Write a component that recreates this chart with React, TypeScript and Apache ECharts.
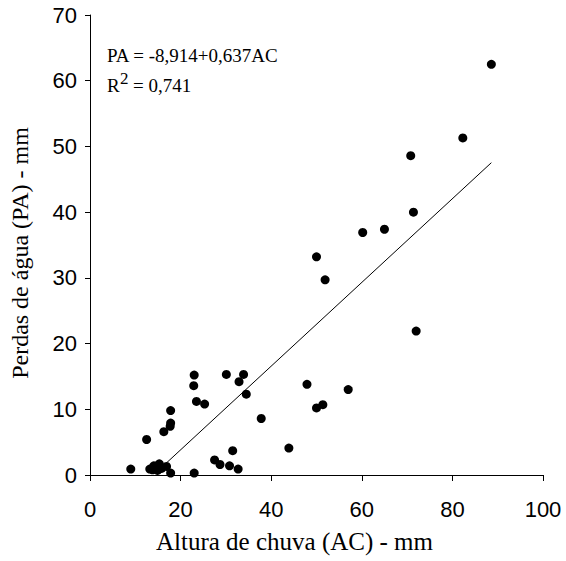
import React, { useEffect, useRef } from "react";
import * as echarts from "echarts";

const rainfallAC: number[] = [
  88.6, 82.3, 70.8, 71.4, 65.0, 60.2, 50.0, 51.9, 72.0,
  23.0, 22.9, 30.1, 33.9, 32.9, 34.5, 23.5, 25.3, 37.8, 47.9, 57.0, 50.0, 51.4,
  43.9, 31.5, 27.5, 28.7, 30.8, 32.7, 23.0,
  9.0, 12.5, 16.3, 17.8, 17.8, 17.7, 13.2, 14.1, 15.3, 14.9, 16.9, 17.8, 15.8, 13.8,
];
const lossesPA: number[] = [
  62.5, 51.3, 48.6, 40.0, 37.4, 36.9, 33.2, 29.7, 21.9,
  15.2, 13.6, 15.3, 15.3, 14.2, 12.3, 11.2, 10.8, 8.6, 13.8, 13.0, 10.2, 10.7,
  4.1, 3.7, 2.3, 1.6, 1.4, 0.9, 0.3,
  0.9, 5.4, 6.6, 9.8, 7.9, 7.4, 0.9, 1.4, 1.7, 0.7, 1.3, 0.3, 1.0, 0.8,
];
const intercept = -8.914;
const slope = 0.637;
const fitRangeAC: number[] = [15.6, 88.6];
const equationText = "PA = -8,914+0,637AC";
const r2Value = "0,741";

const serif = "'Liberation Serif', 'Times New Roman', serif";
const sans = "'Liberation Sans', Arial, sans-serif";

export default function App() {
  const ref = useRef<HTMLDivElement>(null);
  useEffect(() => {
    if (!ref.current) return;
    const chart = echarts.init(ref.current, null, { renderer: "svg" });
    const points = rainfallAC.map((x, i) => [x, lossesPA[i]]);
    const fit = fitRangeAC.map((x) => [x, intercept + slope * x]);
    chart.setOption({
      animation: false,
      backgroundColor: "#fff",
      grid: { left: 90, right: 23, top: 15, bottom: 86 },
      xAxis: {
        type: "value",
        min: 0,
        max: 100,
        interval: 20,
        splitLine: { show: false },
        axisLine: { lineStyle: { color: "#000", width: 1 } },
        axisTick: { inside: false, length: 6, lineStyle: { color: "#000" } },
        axisLabel: { color: "#000", fontFamily: sans, fontSize: 22, margin: 23 },
        name: "Altura de chuva (AC) - mm",
        nameLocation: "middle",
        nameGap: 54,
        nameTextStyle: {
          color: "#000",
          fontFamily: serif,
          fontSize: 25,
          padding: [0, 44, 0, 0],
        },
      },
      yAxis: {
        type: "value",
        min: 0,
        max: 70,
        interval: 10,
        splitLine: { show: false },
        axisLine: { show: true, lineStyle: { color: "#000", width: 1 } },
        axisTick: { show: true, inside: false, length: 5, lineStyle: { color: "#000" } },
        axisLabel: { color: "#000", fontFamily: sans, fontSize: 22, margin: 13 },
        name: "Perdas de água (PA) - mm",
        nameLocation: "middle",
        nameGap: 58,
        nameRotate: 90,
        nameTextStyle: {
          color: "#000",
          fontFamily: serif,
          fontSize: 24,
          padding: [0, 16, 0, 0],
        },
      },
      series: [
        {
          type: "line",
          data: fit,
          showSymbol: false,
          symbol: "none",
          lineStyle: { color: "#000", width: 1 },
          z: 1,
        },
        {
          type: "scatter",
          data: points,
          symbol: "circle",
          symbolSize: 9,
          itemStyle: { color: "#000", opacity: 1 },
          z: 2,
        },
      ],
      graphic: [
        {
          type: "text",
          left: 107,
          top: 46,
          style: { text: equationText, fontFamily: serif, fontSize: 19, fill: "#000" },
        },
        {
          type: "text",
          left: 107,
          top: 76,
          style: { text: "R", fontFamily: serif, fontSize: 19, fill: "#000" },
        },
        {
          type: "text",
          left: 120,
          top: 70,
          style: { text: "2", fontFamily: serif, fontSize: 17, fill: "#000" },
        },
        {
          type: "text",
          left: 133,
          top: 76,
          style: { text: "= " + r2Value, fontFamily: serif, fontSize: 19, fill: "#000" },
        },
      ],
    });
    return () => chart.dispose();
  }, []);
  return (
    <div
      ref={ref}
      style={{ position: "absolute", left: 0, top: 0, width: 566, height: 561 }}
    />
  );
}
